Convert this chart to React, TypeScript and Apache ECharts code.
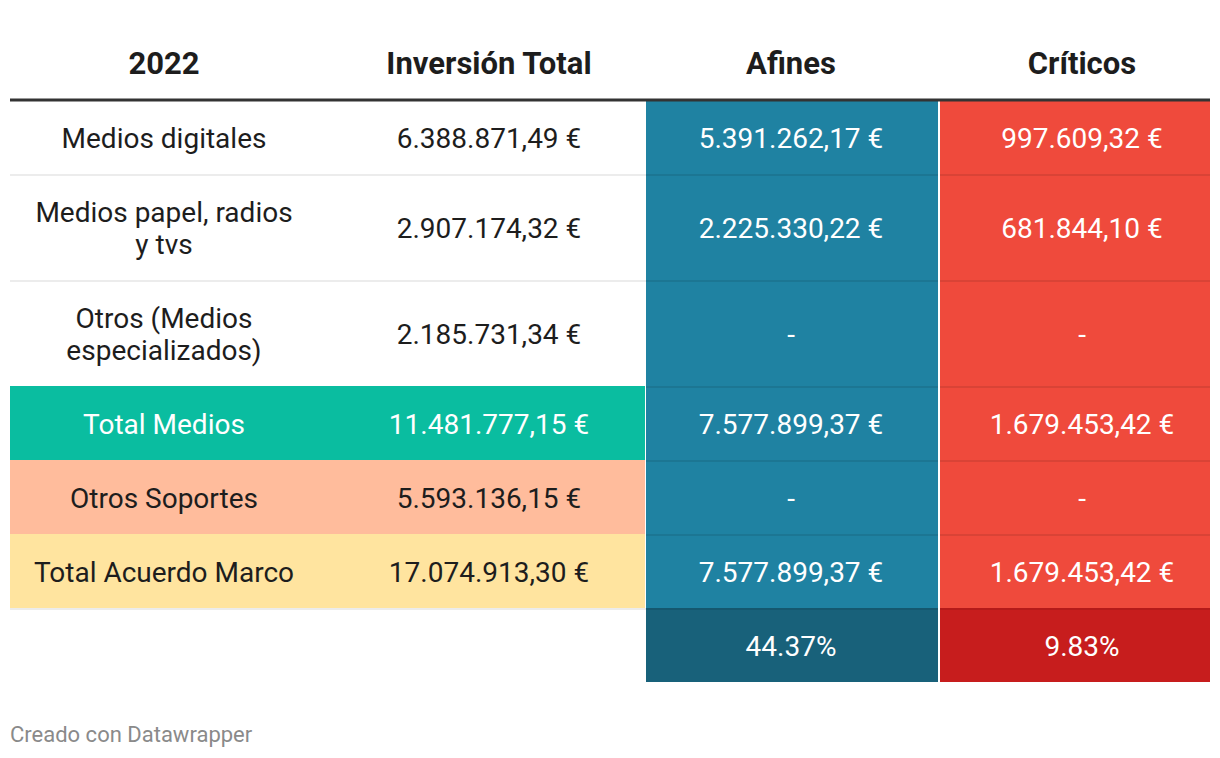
import React, { useEffect, useRef } from "react";
import * as echarts from "echarts";

// ---- data ----
const headers = ["2022", "Inversión Total", "Afines", "Críticos"];
const categories = [
  "Medios digitales",
  "Medios papel, radios\ny tvs",
  "Otros (Medios\nespecializados)",
  "Total Medios",
  "Otros Soportes",
  "Total Acuerdo Marco",
];
const inversionTotal = [6388871.49, 2907174.32, 2185731.34, 11481777.15, 5593136.15, 17074913.3];
const afines = [5391262.17, 2225330.22, null, 7577899.37, null, 7577899.37];
const criticos = [997609.32, 681844.1, null, 1679453.42, null, 1679453.42];
const sharePct = [44.37, 9.83]; // Afines, Críticos share of Total Acuerdo Marco
const footer = "Creado con Datawrapper";

// ---- layout / style ----
const colStart = [0, 318, 636, 930];
const colEnd = [318, 635, 928, 1200];
const textX = [154, 479, 781, 1072];
const headerH = 70;
const rowFillLeft = ["#ffffff", "#ffffff", "#ffffff", "#0abda0", "#ffbc9c", "#ffe49f", "#ffffff"];
const rowTextLeft = ["#1d1d1d", "#1d1d1d", "#1d1d1d", "#ffffff", "#1d1d1d", "#1d1d1d", "#1d1d1d"];
const afinesColor = "#1f82a2";
const criticosColor = "#ef4a3c";
const afinesDark = "#18617a";
const criticosDark = "#c71d1d";
const FONT = "Roboto, 'Noto Sans', sans-serif";

function fmtEur(v: number | null): string {
  if (v === null || v === undefined) return "-";
  const [i, d] = v.toFixed(2).split(".");
  return i.replace(/\B(?=(\d{3})+(?!\d))/g, ".") + "," + d + " €";
}

export default function App() {
  const ref = useRef<HTMLDivElement>(null);
  useEffect(() => {
    if (!ref.current) return;
    const chart = echarts.init(ref.current, null, { renderer: "svg" });

    // rows: 0 = header, 1..6 = categories, 7 = share row
    const labels = [...categories, ""];
    const lineCounts = labels.map((l) => (l === "" ? 1 : l.split("\n").length));
    const rowEdges = [0, headerH];
    lineCounts.forEach((n) => rowEdges.push(rowEdges[rowEdges.length - 1] + 42 + 32 * n));
    const total = rowEdges[rowEdges.length - 1];

    const cellText = (c: number, r: number): string => {
      if (r === 0) return headers[c];
      const i = r - 1;
      if (i < categories.length) {
        if (c === 0) return categories[i];
        if (c === 1) return fmtEur(inversionTotal[i]);
        if (c === 2) return fmtEur(afines[i]);
        return fmtEur(criticos[i]);
      }
      if (c === 2) return sharePct[0].toFixed(2) + "%";
      if (c === 3) return sharePct[1].toFixed(2) + "%";
      return "";
    };

    const data: number[][] = [];
    for (let r = 1; r < rowEdges.length - 1; r++) for (let c = 0; c < 4; c++) data.push([c, r]);
    for (let c = 0; c < 4; c++) data.push([c, 0]);

    const renderItem = (params: any, api: any) => {
      const c = api.value(0);
      const r = api.value(1);
      const p0 = api.coord([colStart[c], rowEdges[r]]);
      const p1 = api.coord([colEnd[c], rowEdges[r + 1]]);
      const tx = api.coord([textX[c], 0])[0];
      const children: any[] = [];
      const text = cellText(c, r);
      if (r === 0) {
        const nextStart = c < 3 ? api.coord([colStart[c + 1], 0])[0] : p1[0];
        children.push({
          type: "text",
          style: {
            text,
            x: tx,
            y: (p0[1] + p1[1]) / 2 - 2,
            align: "center",
            verticalAlign: "middle",
            font: `bold 31px ${FONT}`,
            fill: "#1d1d1d",
          },
        });
        children.push({
          type: "line",
          z2: 20,
          shape: { x1: p0[0], y1: p1[1], x2: nextStart, y2: p1[1] },
          style: { stroke: "#333333", lineWidth: 3 },
        });
        return { type: "group", children };
      }
      const i = r - 1;
      let fill: string;
      let color: string;
      if (c < 2) {
        fill = rowFillLeft[i];
        color = rowTextLeft[i];
      } else {
        const isShare = i >= categories.length;
        fill = c === 2 ? (isShare ? afinesDark : afinesColor) : isShare ? criticosDark : criticosColor;
        color = "#ffffff";
      }
      children.push({
        type: "rect",
        shape: { x: p0[0], y: p0[1], width: p1[0] - p0[0], height: p1[1] - p0[1] },
        style: { fill },
      });
      if (r >= 2) {
        if (c >= 2) {
          children.push({
            type: "line",
            z2: 5,
            shape: { x1: p0[0], y1: p0[1] + 1, x2: p1[0], y2: p0[1] + 1 },
            style: { stroke: "rgba(0,0,0,0.09)", lineWidth: 2 },
          });
        } else if (rowFillLeft[i] === "#ffffff") {
          children.push({
            type: "line",
            z2: 5,
            shape: { x1: p0[0], y1: p0[1] + 1, x2: p1[0] + 1, y2: p0[1] + 1 },
            style: { stroke: "#ececec", lineWidth: 2 },
          });
        }
      }
      if (text) {
        children.push({
          type: "text",
          z2: 10,
          style: {
            text,
            x: tx,
            y: (p0[1] + p1[1]) / 2 + 1,
            align: "center",
            verticalAlign: "middle",
            font: `28px ${FONT}`,
            lineHeight: 32,
            fill: color,
          },
        });
      }
      return { type: "group", children };
    };

    chart.setOption({
      animation: false,
      backgroundColor: "#ffffff",
      grid: { left: 10, right: 10, top: 30, height: total },
      xAxis: { type: "value", min: 0, max: 1200, show: false },
      yAxis: { type: "value", min: 0, max: total, inverse: true, show: false },
      graphic: [
        {
          type: "text",
          left: 10,
          top: 723,
          style: { text: footer, font: `22px ${FONT}`, fill: "#8a8a8a" },
        },
      ],
      series: [
        {
          type: "custom",
          coordinateSystem: "cartesian2d",
          renderItem,
          data,
          clip: false,
        },
      ],
    });
    return () => chart.dispose();
  }, []);
  return (
    <div
      ref={ref}
      style={{ position: "absolute", left: 0, top: 0, width: 1220, height: 758 }}
    />
  );
}
